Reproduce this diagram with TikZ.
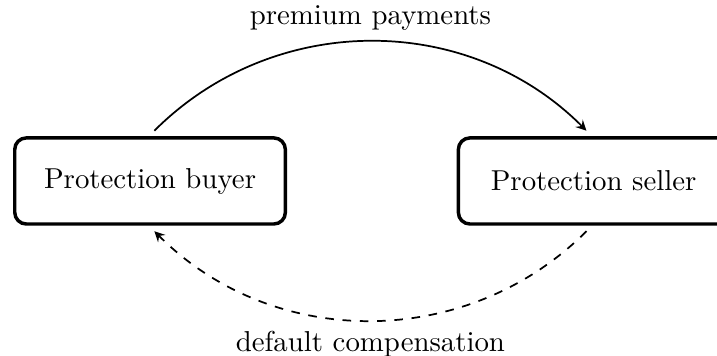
\documentclass[tikz,border=0pt]{standalone}
\usepackage{tikz}

\begin{document}
\begin{tikzpicture}[
		party/.style={draw,very thick,rounded corners=4pt,minimum width=3.3cm,minimum height=1.05cm,outer sep=2.5pt},
		flow/.style={semithick,-stealth}]
		\useasboundingbox (0,0) rectangle (8.744,4.341);
		\node[party] (buyer) at (1.83,2.134) {Protection buyer};
		\node[party] (seller) at (7.24,2.134) {Protection seller};
		\draw[flow] ([xshift=1.5pt]buyer.north) to[bend left=45] node[above] {premium payments} ([xshift=-2.5pt]seller.north);
		\draw[flow,dashed] ([xshift=-2.5pt]seller.south) to[bend left=45] node[below] {default compensation} ([xshift=1.5pt]buyer.south);
	\end{tikzpicture}
\end{document}
